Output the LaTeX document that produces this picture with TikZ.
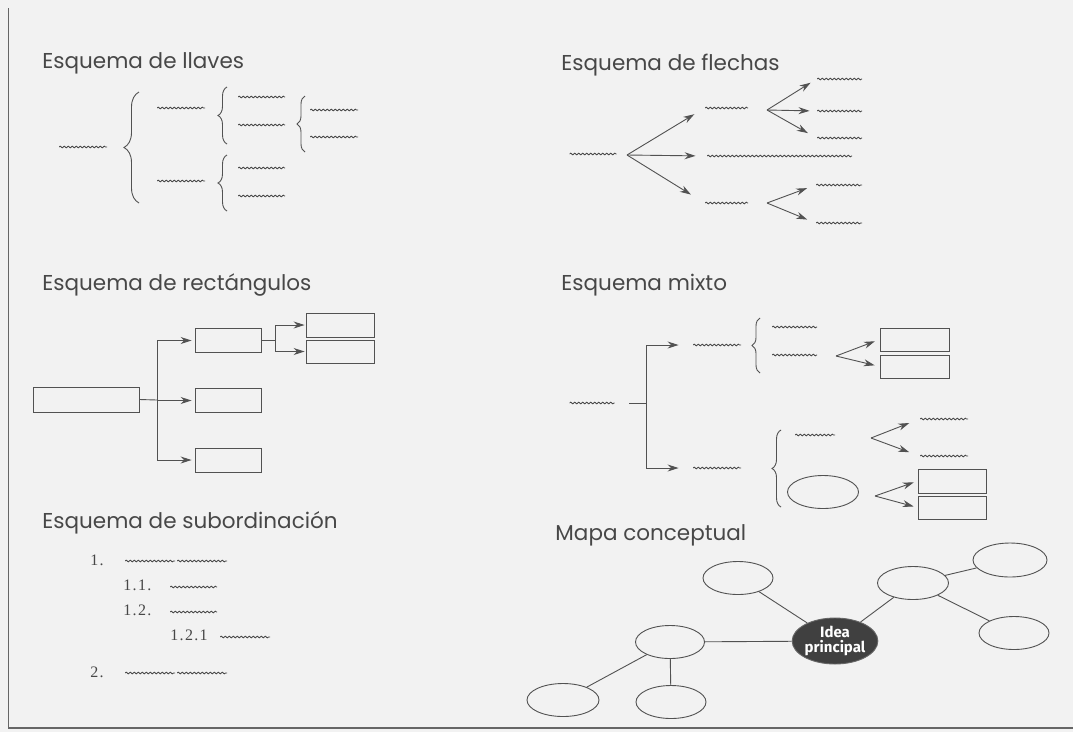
\documentclass[tikz,border=0pt]{standalone}
\usepackage{fontspec}
\setmainfont{Poppins}
\newfontfamily\numfont[LetterSpace=8]{Liberation Serif}
\newfontfamily\ideafont{Fira Sans}
\usetikzlibrary{arrows.meta,decorations.pathreplacing,decorations.pathmorphing,shapes.geometric}
\begin{document}
\begin{tikzpicture}[x=1pt,y=-1pt,color=black!68,line width=0.9pt]
	\tikzstyle{title}=[anchor=base west,inner sep=0pt,text=black!72,font=\fontsize{21.5}{24}\selectfont]
	\tikzstyle{num}=[anchor=base west,inner sep=0pt,text=black!72,font=\numfont\fontsize{16}{18}\selectfont]
	\tikzstyle{squig}=[inner sep=0pt,minimum height=5pt,minimum width=44pt,path picture={\draw[black!72,line width=0.8pt,decorate,decoration={snake,amplitude=0.9pt,segment length=4pt}] (path picture bounding box.west) -- (path picture bounding box.east);}]
	\tikzstyle{box}=[draw,inner sep=0pt,minimum width=66pt,minimum height=24pt]
	\tikzstyle{oval}=[draw,ellipse,inner sep=0pt,minimum width=70pt,minimum height=33pt]
	\tikzstyle{arr}=[-{Stealth[length=11pt,width=7pt]}]
	\tikzstyle{brace}=[decorate,decoration={brace,amplitude=8pt}]
	\tikzstyle{bigbrace}=[decorate,decoration={brace,amplitude=15pt}]

	\fill[black!5] (0,0) rectangle (1073,732);
	\useasboundingbox (0,0) rectangle (1073,732);
	\draw[black!60,line width=1.3pt] (8.5,8) -- (8.5,728) -- (1073,728);

	% llaves
	\node[title] (tll) at (42,68) {Esquema de llaves};
	\node[squig,minimum width=48pt] (ll0) at (83,147) {};
	\node[squig,minimum width=48pt] (ll1) at (181,108) {};
	\node[squig,minimum width=48pt] (ll2) at (181,181) {};
	\node[squig,minimum width=47pt] (ll11) at (261.5,97) {};
	\node[squig,minimum width=47pt] (ll12) at (261.5,125) {};
	\node[squig,minimum width=48pt] (ll121) at (334,110) {};
	\node[squig,minimum width=48pt] (ll122) at (334,137) {};
	\node[squig,minimum width=47pt] (ll21) at (261.5,168) {};
	\node[squig,minimum width=47pt] (ll22) at (261.5,196) {};
	\draw[bigbrace] (139,203) -- (139,92);
	\draw[brace,decoration={amplitude=9pt}] (227,144) -- (227,87);
	\draw[brace] (305,152) -- (305,96);
	\draw[brace,decoration={amplitude=9pt}] (227,211) -- (227,155);

	% flechas
	\node[title] (tfl) at (561,70) {Esquema de flechas};
	\node[squig,minimum width=47pt] (fl0) at (593,154) {};
	\coordinate (flf) at (627,155);
	\node[squig,minimum width=43pt] (fl1) at (726.5,108) {};
	\node[squig,minimum width=145pt] (fl2) at (779.5,156) {};
	\node[squig,minimum width=43pt] (fl3) at (726.5,203) {};
	\coordinate (flf1) at (767,110);
	\coordinate (flf3) at (767,203);
	\node[squig,minimum width=45pt] (fl11) at (839.5,79) {};
	\node[squig,minimum width=45pt] (fl12) at (839.5,111) {};
	\node[squig,minimum width=45pt] (fl13) at (839.5,138) {};
	\node[squig,minimum width=46pt] (fl31) at (839,185) {};
	\node[squig,minimum width=46pt] (fl32) at (839,223) {};
	\draw[arr,shorten >=12pt] (flf) -- (fl1.west);
	\draw[arr,shorten >=11pt] (flf) -- (fl2.west);
	\draw[arr,shorten >=16pt] (flf) -- (fl3.west);
	\draw[arr,shorten >=7pt] (flf1) -- (fl11.west);
	\draw[arr,shorten >=7pt] (flf1) -- (fl12.west);
	\draw[arr,shorten >=10pt] (flf1) -- (fl13.west);
	\draw[arr,shorten >=9pt] (flf3) -- (fl31.west);
	\draw[arr,shorten >=9pt] (flf3) -- (fl32.west);

	% rectangulos
	\node[title] (tre) at (42,290) {Esquema de rectángulos};
	\node[box,minimum width=106pt,minimum height=25pt] (re0) at (86,399.5) {};
	\node[box] (re1) at (228,340.5) {};
	\node[box] (re2) at (228,400.5) {};
	\node[box] (re3) at (228,460) {};
	\node[box,minimum width=68pt] (re11) at (340,325) {};
	\node[box,minimum width=68pt,minimum height=23pt] (re12) at (340,351.5) {};
	\coordinate (rej) at (157,400);
	\coordinate (rej1) at (275,340.5);
	\draw (re0.east) -- (rej);
	\draw (rej |- re1) -- (rej |- re3);
	\draw[arr,shorten >=3pt] (rej |- re1) -- (re1);
	\draw[arr,shorten >=3pt] (rej |- re2) -- (re2);
	\draw[arr,shorten >=3pt] (rej |- re3) -- (re3);
	\draw (re1.east) -- (rej1);
	\draw (rej1 |- re11) -- (rej1 |- re12);
	\draw[arr,shorten >=1pt] (rej1 |- re11) -- (re11);
	\draw[arr,shorten >=1pt] (rej1 |- re12) -- (re12);

	% mixto
	\node[title] (tmx) at (561,290) {Esquema mixto};
	\node[squig,minimum width=45pt] (mx0) at (592,403) {};
	\coordinate (mxs) at (629,403);
	\coordinate (mxj) at (646,403);
	\node[squig,minimum width=48pt] (mx1) at (717,345) {};
	\node[squig,minimum width=48pt] (mx2) at (717,468) {};
	\draw (mxs) -- (mxj);
	\draw (mxj |- mx1) -- (mxj |- mx2);
	\draw[arr,shorten >=14pt] (mxj |- mx1) -- (mx1.west);
	\draw[arr,shorten >=14pt] (mxj |- mx2) -- (mx2.west);
	\draw[brace] (760,373) -- (760,318);
	\node[squig,minimum width=45pt] (mx11) at (794.5,327) {};
	\node[squig,minimum width=45pt] (mx12) at (794.5,355) {};
	\coordinate (mxf1) at (836,356);
	\node[box,minimum width=69pt,minimum height=23pt] (mx121) at (914.5,339.5) {};
	\node[box,minimum width=69pt,minimum height=23pt] (mx122) at (914.5,366.5) {};
	\draw[arr,shorten >=5pt] (mxf1) -- (mx121.west);
	\draw[arr,shorten >=5pt] (mxf1) -- (mx122.west);
	\draw[brace,decoration={amplitude=9pt}] (781,507) -- (781,430);
	\node[squig,minimum width=40pt] (mx21) at (815,435) {};
	\node[oval,minimum width=71pt,minimum height=33pt] (mx22) at (823,492) {};
	\coordinate (mxf2) at (871,438);
	\coordinate (mxf3) at (875,496);
	\node[squig,minimum width=48pt] (mx211) at (944,419) {};
	\node[squig,minimum width=48pt] (mx212) at (944,456) {};
	\node[box,minimum width=68pt] (mx221) at (952,481) {};
	\node[box,minimum width=68pt,minimum height=23pt] (mx222) at (952,507.5) {};
	\draw[arr,shorten >=11pt] (mxf2) -- (mx211.west);
	\draw[arr,shorten >=11pt] (mxf2) -- (mx212.west);
	\draw[arr,shorten >=4pt] (mxf3) -- (mx221.west);
	\draw[arr,shorten >=4pt] (mxf3) -- (mx222.west);

	% subordinacion
	\node[title] (tsu) at (42,528) {Esquema de subordinación};
	\node[num] (su1) at (90,565) {1.};
	\node[squig,minimum width=50pt] (su1a) at (150,561) {};
	\node[squig,minimum width=50pt] (su1b) at (202,561) {};
	\node[num] (su11) at (123,590) {1.1.};
	\node[squig,minimum width=47pt] (su11a) at (193.5,587) {};
	\node[num] (su12) at (123,615) {1.2.};
	\node[squig,minimum width=47pt] (su12a) at (193.5,612) {};
	\node[num] (su121) at (170,640) {1.2.1};
	\node[squig,minimum width=50pt] (su121a) at (245,637) {};
	\node[num] (su2) at (90,677) {2.};
	\node[squig,minimum width=50pt] (su2a) at (150,673) {};
	\node[squig,minimum width=50pt] (su2b) at (202,673) {};

	% mapa conceptual
	\node[title] (tmc) at (555,540) {Mapa conceptual};
	\node[oval,fill=black!75,draw=black!60,minimum width=83pt,minimum height=46pt,text=white,align=center,font=\ideafont\bfseries\fontsize{15}{15.5}\selectfont] (mc0) at (835,641) {Idea\\principal};
	\node[oval] (mc1) at (738,578) {};
	\node[oval,minimum width=71pt] (mc2) at (913,583) {};
	\node[oval,minimum width=74pt,minimum height=34pt] (mc21) at (1010,560) {};
	\node[oval] (mc22) at (1014,633) {};
	\node[oval,minimum width=69pt] (mc3) at (670,642) {};
	\node[oval,minimum width=72pt] (mc31) at (563,700) {};
	\node[oval] (mc32) at (671,702) {};
	\draw (mc1) -- (mc0);
	\draw (mc0) -- (mc2);
	\draw (mc2) -- (mc21);
	\draw (mc2) -- (mc22);
	\draw (mc3) -- (mc0);
	\draw (mc3) -- (mc31);
	\draw (mc3) -- (mc32);
\end{tikzpicture}
\end{document}
